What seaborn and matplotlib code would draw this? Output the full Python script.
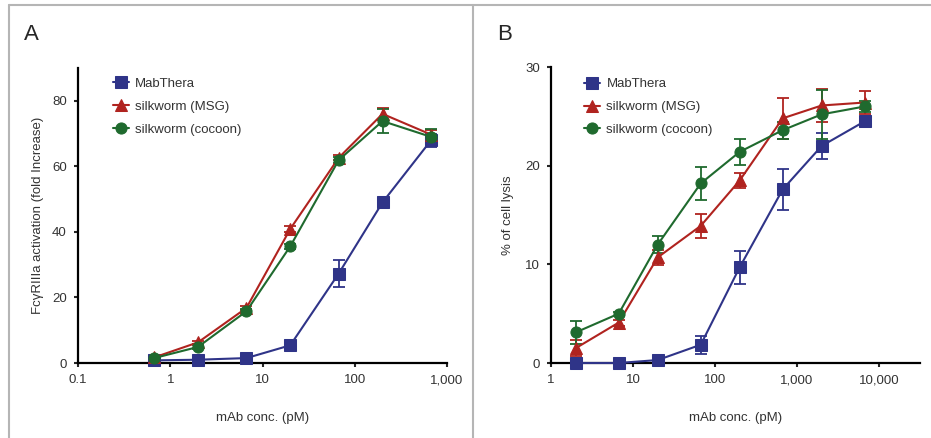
import numpy as np
import pandas as pd
import matplotlib.pyplot as plt
import matplotlib.ticker as mticker
from matplotlib.lines import Line2D
import seaborn as sns

# panel A: FcgRIIIa activation
conc_a = [0.67, 2, 6.7, 20, 67, 200, 670]
mab_a = [0.8, 1.0, 1.5, 5.4, 27.3, 49.0, 67.9]
mab_a_err = [0.3, 0.3, 0.4, 0.6, 4.1, 0.8, 2.0]
msg_a = [1.7, 6.3, 16.8, 40.9, 62.6, 76.0, 69.7]
msg_a_err = [0.3, 0.5, 0.6, 0.8, 0.8, 1.8, 1.5]
coc_a = [1.5, 4.9, 15.8, 35.6, 61.9, 73.8, 69.0]
coc_a_err = [0.3, 0.5, 0.6, 0.8, 0.8, 3.6, 2.4]

# panel B: cell lysis
conc_b = [2, 6.7, 20, 67, 200, 670, 2000, 6700]
mab_b = [0.0, 0.0, 0.3, 1.85, 9.7, 17.6, 22.0, 24.5]
mab_b_err = [0.1, 0.1, 0.1, 0.9, 1.65, 2.1, 1.35, 0.4]
msg_b = [1.5, 4.1, 10.7, 13.9, 18.5, 24.8, 26.1, 26.4]
msg_b_err = [0.8, 0.3, 0.75, 1.2, 0.8, 2.1, 1.7, 1.2]
coc_b = [3.1, 5.0, 12.0, 18.2, 21.4, 23.6, 25.2, 26.0]
coc_b_err = [1.2, 0.2, 0.85, 1.7, 1.35, 0.85, 2.5, 0.6]

names = ['MabThera', 'silkworm (MSG)', 'silkworm (cocoon)']
colors = ['#2f3488', '#b0231f', '#1f6a2e']
markers = ['s', '^', 'o']

sns.set_style('ticks')
plt.rcParams['font.family'] = ['Liberation Sans', 'DejaVu Sans']

fig = plt.figure(figsize=(9.31, 4.38), dpi=100)

# gray frame lines
for seg in [([9 / 931, 1], [1 - 5 / 438, 1 - 5 / 438]),
            ([9 / 931, 9 / 931], [0, 1 - 5 / 438]),
            ([473 / 931, 473 / 931], [0, 1 - 5 / 438])]:
    fig.add_artist(Line2D(seg[0], seg[1], color='#b5b5b5', lw=1.5))

ax_a = fig.add_axes([78 / 931, 75 / 438, 369 / 931, 295 / 438])
ax_b = fig.add_axes([551 / 931, 75 / 438, 369 / 931, 296 / 438])


def draw(ax, x, series, errs, leg_x, leg_y):
    for name, y, e, c, m in zip(names, series, errs, colors, markers):
        df = pd.DataFrame({'x': x, 'y': y})
        sns.lineplot(data=df, x='x', y='y', ax=ax, color=c, marker=m,
                     markersize=8 if m != '^' else 9, markeredgecolor=c,
                     linewidth=1.5, label=name, clip_on=False, zorder=3)
        ax.errorbar(x, y, yerr=e, fmt='none', ecolor=c, elinewidth=1.3,
                    capsize=4, capthick=1.3, clip_on=False, zorder=2)
    ax.set_xscale('log')
    for s in ['top', 'right']:
        ax.spines[s].set_visible(False)
    for s in ['left', 'bottom']:
        ax.spines[s].set_linewidth(1.6)
        ax.spines[s].set_color('black')
    ax.tick_params(axis='both', which='major', direction='out', length=3,
                   width=1.5, labelsize=9.5, labelcolor='#333333', pad=5)
    ax.tick_params(axis='x', which='minor', length=0)
    ax.xaxis.set_major_formatter(mticker.FuncFormatter(
        lambda v, p: ('{:,.0f}'.format(v) if v >= 1 else '{:g}'.format(v))))
    ax.set_xlabel('mAb conc. (pM)', fontsize=9.5, color='#333333', labelpad=19)
    leg = ax.legend(loc='upper left', bbox_to_anchor=(leg_x, leg_y), frameon=False,
                    fontsize=9.5, handlelength=1.2, handletextpad=0.5,
                    labelspacing=0.8, borderaxespad=0)
    for t in leg.get_texts():
        t.set_color('#333333')


draw(ax_a, conc_a, [mab_a, msg_a, coc_a], [mab_a_err, msg_a_err, coc_a_err],
     0.08, 0.985)
ax_a.set_xlim(0.1, 1000)
ax_a.set_ylim(0, 90)
ax_a.set_yticks([0, 20, 40, 60, 80])
ax_a.set_xticks([0.1, 1, 10, 100, 1000])
ax_a.set_ylabel('Fc\u03b3RIIIa activation (fold Increase)', fontsize=9.5,
                color='#333333', labelpad=6)

draw(ax_b, conc_b, [mab_b, msg_b, coc_b], [mab_b_err, msg_b_err, coc_b_err],
     0.075, 0.98)
ax_b.set_xlim(1, 10 ** 4.5)
ax_b.set_ylim(0, 30)
ax_b.set_yticks([0, 10, 20, 30])
ax_b.set_xticks([1, 10, 100, 1000, 10000])
ax_b.set_ylabel('% of cell lysis', fontsize=9.5, color='#333333', labelpad=8)

fig.text(24 / 931, 1 - 40 / 438, 'A', fontsize=16, va='baseline')
fig.text(497 / 931, 1 - 40 / 438, 'B', fontsize=16, va='baseline')

fig.savefig('out.png', dpi=100)
